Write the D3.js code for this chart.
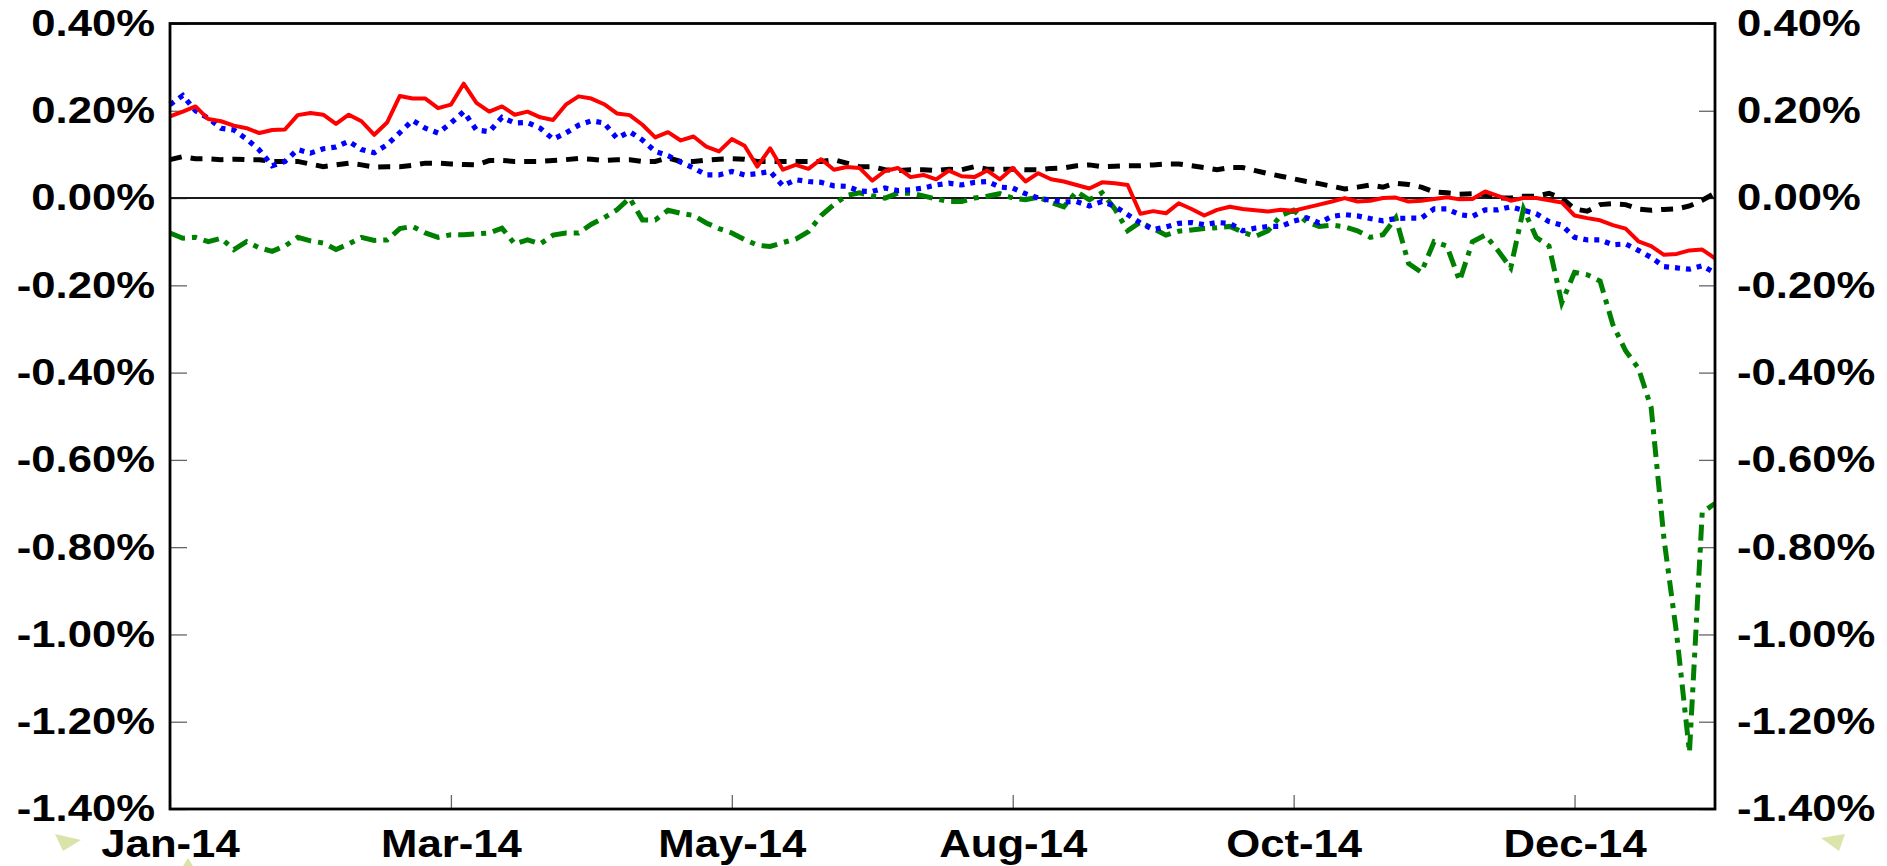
<!DOCTYPE html>
<html><head><meta charset="utf-8">
<script src="https://cdn.jsdelivr.net/npm/d3@7"></script>
<style>html,body{margin:0;padding:0;background:#fff;overflow:hidden}</style>
</head><body><svg id="chart" width="1887" height="866"></svg>
<script>
// ---- data (values in %) ----
const tickLabels = ["Jan-14", "Mar-14", "May-14", "Aug-14", "Oct-14", "Dec-14"];
const tickIndex = [0, 22, 44, 66, 88, 110];
const yTicks = [0.4, 0.2, 0, -0.2, -0.4, -0.6, -0.8, -1.0, -1.2, -1.4];

const seriesRed = [0.187,0.198,0.210,0.181,0.176,0.166,0.160,0.149,0.156,0.157,
0.190,0.195,0.191,0.170,0.191,0.176,0.145,0.173,0.234,0.228,
0.228,0.206,0.214,0.262,0.218,0.198,0.210,0.191,0.198,0.185,
0.179,0.214,0.233,0.228,0.215,0.194,0.190,0.168,0.139,0.151,
0.132,0.141,0.118,0.107,0.135,0.120,0.072,0.114,0.065,0.076,
0.067,0.089,0.065,0.071,0.069,0.040,0.062,0.069,0.048,0.053,
0.043,0.063,0.050,0.048,0.063,0.043,0.069,0.038,0.057,0.043,
0.038,0.030,0.022,0.036,0.034,0.030,-0.036,-0.030,-0.035,-0.012,
-0.025,-0.040,-0.027,-0.020,-0.025,-0.028,-0.031,-0.027,-0.029,-0.022,
-0.015,-0.008,0.000,-0.008,-0.006,0.000,0.001,-0.008,-0.006,-0.002,
0.002,-0.003,-0.002,0.015,0.005,-0.006,0.000,0.000,-0.005,-0.010,
-0.040,-0.046,-0.051,-0.062,-0.070,-0.099,-0.110,-0.130,-0.128,-0.120,
-0.118,-0.138];

const seriesBlue = [0.214,0.235,0.200,0.183,0.160,0.156,0.135,0.110,0.074,0.084,
0.111,0.103,0.113,0.117,0.130,0.111,0.104,0.122,0.150,0.178,
0.160,0.149,0.172,0.198,0.156,0.152,0.185,0.172,0.173,0.160,
0.135,0.149,0.167,0.177,0.172,0.137,0.152,0.133,0.107,0.097,
0.082,0.069,0.053,0.053,0.061,0.053,0.056,0.061,0.028,0.042,
0.038,0.036,0.028,0.027,0.016,0.015,0.023,0.017,0.019,0.023,
0.030,0.034,0.030,0.036,0.038,0.025,0.023,0.010,0.000,-0.005,
-0.009,-0.008,-0.018,-0.008,-0.019,-0.038,-0.057,-0.072,-0.066,-0.058,
-0.056,-0.061,-0.056,-0.058,-0.075,-0.069,-0.065,-0.065,-0.053,-0.045,
-0.057,-0.042,-0.038,-0.041,-0.047,-0.052,-0.047,-0.046,-0.046,-0.025,
-0.025,-0.038,-0.042,-0.027,-0.027,-0.020,-0.028,-0.036,-0.054,-0.062,
-0.090,-0.096,-0.096,-0.107,-0.105,-0.120,-0.136,-0.157,-0.160,-0.163,
-0.155,-0.172];

const seriesBlack = [0.088,0.095,0.090,0.090,0.088,0.089,0.088,0.088,0.084,0.084,
0.084,0.078,0.072,0.076,0.080,0.076,0.071,0.072,0.072,0.075,
0.080,0.080,0.078,0.077,0.076,0.086,0.086,0.084,0.084,0.084,
0.086,0.088,0.091,0.089,0.086,0.088,0.088,0.084,0.084,0.092,
0.084,0.084,0.087,0.089,0.090,0.089,0.084,0.084,0.084,0.084,
0.084,0.084,0.088,0.080,0.072,0.072,0.065,0.063,0.065,0.065,
0.063,0.066,0.065,0.072,0.066,0.066,0.066,0.065,0.065,0.068,
0.069,0.074,0.076,0.072,0.073,0.074,0.074,0.076,0.078,0.078,
0.074,0.070,0.065,0.070,0.070,0.063,0.056,0.050,0.044,0.038,
0.033,0.027,0.021,0.025,0.030,0.025,0.034,0.031,0.025,0.014,
0.012,0.009,0.010,0.008,0.000,0.000,0.004,0.004,0.011,0.000,
-0.025,-0.030,-0.015,-0.013,-0.015,-0.025,-0.028,-0.026,-0.025,-0.018,
-0.005,0.011];

const seriesGreen = [-0.080,-0.092,-0.090,-0.100,-0.092,-0.118,-0.100,-0.114,-0.122,-0.110,
-0.090,-0.098,-0.103,-0.118,-0.105,-0.090,-0.097,-0.096,-0.070,-0.065,
-0.080,-0.090,-0.084,-0.084,-0.082,-0.080,-0.069,-0.105,-0.096,-0.105,
-0.085,-0.080,-0.080,-0.060,-0.045,-0.027,0.000,-0.050,-0.050,-0.028,
-0.035,-0.040,-0.057,-0.070,-0.080,-0.095,-0.108,-0.111,-0.102,-0.094,
-0.077,-0.040,-0.015,0.006,0.012,0.005,0.000,0.011,0.011,0.005,
-0.002,-0.008,-0.008,0.000,0.004,0.010,0.000,-0.004,0.002,-0.010,
-0.020,0.015,-0.004,0.012,-0.025,-0.075,-0.055,-0.070,-0.085,-0.076,
-0.073,-0.070,-0.068,-0.065,-0.078,-0.088,-0.075,-0.040,-0.028,-0.054,
-0.065,-0.062,-0.066,-0.075,-0.090,-0.084,-0.045,-0.150,-0.170,-0.100,
-0.110,-0.190,-0.100,-0.085,-0.120,-0.160,-0.025,-0.090,-0.110,-0.240,
-0.170,-0.176,-0.190,-0.290,-0.350,-0.390,-0.480,-0.780,-1.000,-1.270,
-0.720,-0.700];

// ---- layout ----
const plot = {left: 170, right: 1715, top: 23.5, bottom: 809};
const svg = d3.select("#chart");
const FONT = "'Liberation Sans', Arial, sans-serif";
const SX = 1.18;

// watermark remnants
const wm = svg.append("g").attr("fill", "#d3df9c").attr("opacity", 0.85);
wm.append("path").attr("d", "M55,834 L81,840 L63,851 Z");
wm.append("path").attr("d", "M1821,838 L1845,834 L1839,851 Z");
wm.append("path").attr("d", "M183,866 L188,858 L193,866 Z");

const x = d3.scaleLinear().domain([0, seriesRed.length - 1]).range([plot.left, plot.right]);
const y = d3.scaleLinear().domain([0.4, -1.4]).range([plot.top, plot.bottom]);
const fmt = d => d.toFixed(2) + "%";

// left axis
const gl = svg.append("g").attr("transform", `translate(${plot.left},0)`)
  .call(d3.axisLeft(y).tickValues(yTicks).tickFormat(fmt).tickSizeInner(-17).tickSizeOuter(0).tickPadding(15));
// right axis
const gr = svg.append("g").attr("transform", `translate(${plot.right},0)`)
  .call(d3.axisRight(y).tickValues(yTicks).tickFormat(fmt).tickSizeInner(-16).tickSizeOuter(0).tickPadding(22));
// bottom axis
const gb = svg.append("g").attr("transform", `translate(0,${plot.bottom})`)
  .call(d3.axisBottom(x).tickValues(tickIndex).tickFormat((d, i) => tickLabels[i]).tickSizeInner(-14).tickSizeOuter(0).tickPadding(21));

[gl, gr, gb].forEach(g => {
  g.select(".domain").remove();
  g.selectAll(".tick line").attr("stroke", "#666").attr("stroke-width", 1.3);
  g.selectAll("text").attr("font-family", FONT).attr("font-weight", "bold").attr("fill", "#000");
});
gl.selectAll("text").attr("font-size", 37).attr("transform", `scale(${SX},1)`).attr("x", -15 / SX);
gr.selectAll("text").attr("font-size", 37).attr("transform", `scale(${SX},1)`).attr("x", 22 / SX);
gb.selectAll("text").attr("font-size", 38).attr("transform", `scale(1.15,1)`);

// zero line
svg.append("line").attr("x1", plot.left).attr("x2", plot.right)
  .attr("y1", y(0)).attr("y2", y(0)).attr("stroke", "#1a1a1a").attr("stroke-width", 2);

// series
const line = d3.line().x((d, i) => x(i)).y(d => y(d));
const series = [
  {data: seriesGreen, color: "#008000", width: 5, dash: "16,7,5,7"},
  {data: seriesBlack, color: "#000000", width: 5, dash: "12,9"},
  {data: seriesBlue, color: "#0000ff", width: 5.2, dash: "5,6"},
  {data: seriesRed, color: "#ff0000", width: 4, dash: null}
];
series.forEach(s => {
  svg.append("path").datum(s.data).attr("d", line)
    .attr("fill", "none").attr("stroke", s.color).attr("stroke-width", s.width)
    .attr("stroke-dasharray", s.dash).attr("stroke-linejoin", s.dash ? "miter" : "round");
});

// plot border
svg.append("rect").attr("x", plot.left).attr("y", plot.top)
  .attr("width", plot.right - plot.left).attr("height", plot.bottom - plot.top)
  .attr("fill", "none").attr("stroke", "#000").attr("stroke-width", 2.8);
</script>
</body></html>
